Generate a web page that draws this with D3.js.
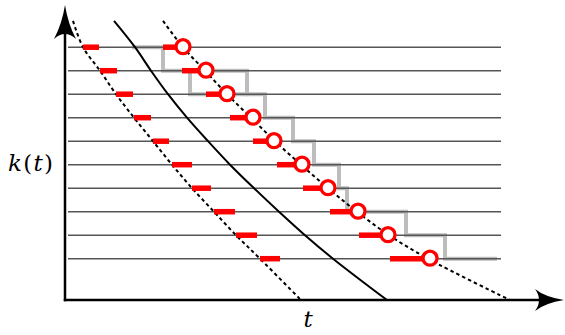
<!DOCTYPE html>
<html>
<head>
<meta charset="utf-8">
<script src="https://cdn.jsdelivr.net/npm/d3@7"></script>
<style>
  html, body { margin: 0; padding: 0; background: #fff; }
  svg { display: block; }
</style>
</head>
<body>
<svg id="chart" width="565" height="335"></svg>
<script>
// ---- data (t along x, k along y; rows ordered from k = 10 down to k = 1) ----
const rowK = [10, 9, 8, 7, 6, 5, 4, 3, 2, 1];
const rowExtentT = [0.6, 87.2];

// short red dashes on the left
const leftDashStart = [3.6, 7.0, 10.2, 13.8, 17.6, 21.4, 25.4, 29.8, 34.2, 39.0];
const leftDashEnd   = [6.8, 10.4, 13.6, 17.2, 20.8, 25.4, 29.2, 34.0, 38.4, 43.0];

// red bars ending in open circles
const barStart = [19.6, 23.4, 28.2, 33.0, 37.6, 42.4, 47.6, 53.0, 58.8, 65.0];
const circleT  = [23.6, 28.2, 32.4, 37.6, 41.8, 47.4, 52.6, 58.6, 64.6, 73.0];

// curves
const curveK      = [11.12, 10, 9, 8, 7, 6, 5, 4, 3, 2, 1, -0.76];
const leftDottedT = [1.6, 3.6, 7.0, 10.2, 13.8, 17.6, 21.4, 25.4, 29.8, 34.2, 39.0, 47.2];
const solidT      = [9.8, 14.0, 17.2, 20.6, 24.4, 28.6, 33.0, 37.8, 42.8, 48.0, 53.6, 64.4];
const rightDottedT= [19.6, 23.6, 28.0, 32.4, 37.2, 42.0, 47.2, 52.6, 58.4, 64.8, 72.6, 89.0];

// gray staircase
const stepT = [13.4, 19.6, 36.4, 40.0, 45.6, 49.8, 54.8, 56.4, 68.2, 76.0, 86.4];
const stepK = [10, 9, 8, 7, 6, 5, 4, 3, 2, 1, 1];
const branchT = [25.0, 36.4];
const branchK = [9, 8];

const xLabel = "t";
const yLabel = ["k", "(", "t", ")"];

// ---- scales ----
const x = d3.scaleLinear().domain([0, 100]).range([65, 565]);
const y = d3.scaleLinear().domain([0, 10]).range([282.2, 47.2]);
const x0 = x(0), yBottom = y(-0.757);

const svg = d3.select("#chart");

// gray staircase
const stepLine = d3.line().x(d => x(d[0])).y(d => y(d[1])).curve(d3.curveStepAfter);
svg.append("path")
  .attr("d", stepLine(stepT.map((t, i) => [t, stepK[i]])))
  .attr("fill", "none").attr("stroke", "#bdbdbd").attr("stroke-width", 4);
const branchLine = d3.line().x(d => x(d[0])).y(d => y(d[1])).curve(d3.curveStepBefore);
svg.append("path")
  .attr("d", branchLine(branchT.map((t, i) => [t, branchK[i]])))
  .attr("fill", "none").attr("stroke", "#bdbdbd").attr("stroke-width", 4);

// horizontal rows
svg.selectAll(".row").data(rowK).join("line")
  .attr("x1", x(rowExtentT[0])).attr("x2", x(rowExtentT[1]))
  .attr("y1", d => y(d)).attr("y2", d => y(d))
  .attr("stroke", "#555").attr("stroke-width", 1.4);

// curves
const curveLine = d3.line().x(d => x(d[0])).y(d => y(d[1])).curve(d3.curveCatmullRom);
function drawCurve(ts, dashed) {
  svg.append("path")
    .attr("d", curveLine(ts.map((t, i) => [t, curveK[i]])))
    .attr("fill", "none").attr("stroke", "#000")
    .attr("stroke-width", 2)
    .attr("stroke-dasharray", dashed ? "3.5,3" : null);
}
drawCurve(leftDottedT, true);
drawCurve(solidT, false);
drawCurve(rightDottedT, true);

// axes with arrows
svg.append("line").attr("x1", x0).attr("x2", x0).attr("y1", yBottom + 1.2).attr("y2", 30)
  .attr("stroke", "#000").attr("stroke-width", 2.5);
svg.append("line").attr("x1", x0 - 1.2).attr("x2", 545).attr("y1", yBottom).attr("y2", yBottom)
  .attr("stroke", "#000").attr("stroke-width", 2.5);
svg.append("path")
  .attr("d", `M${x0},5 Q${x0 - 3},24 ${x0 - 11},39 Q${x0},29 ${x0 + 11},39 Q${x0 + 3},24 ${x0},5 Z`)
  .attr("fill", "#000");
svg.append("path")
  .attr("d", `M564,${yBottom} Q545,${yBottom - 3} 535,${yBottom - 11} Q543,${yBottom} 535,${yBottom + 11} Q545,${yBottom + 3} 564,${yBottom} Z`)
  .attr("fill", "#000");

// red left dashes
svg.selectAll(".ldash").data(rowK).join("line")
  .attr("x1", (d, i) => x(leftDashStart[i])).attr("x2", (d, i) => x(leftDashEnd[i]))
  .attr("y1", d => y(d)).attr("y2", d => y(d))
  .attr("stroke", "#ff0000").attr("stroke-width", 5.5);

// red bars to circles
svg.selectAll(".rbar").data(rowK).join("line")
  .attr("x1", (d, i) => x(barStart[i])).attr("x2", (d, i) => x(circleT[i]))
  .attr("y1", d => y(d)).attr("y2", d => y(d))
  .attr("stroke", "#ff0000").attr("stroke-width", 5.5);

svg.selectAll(".circ").data(rowK).join("circle")
  .attr("cx", (d, i) => x(circleT[i])).attr("cy", d => y(d) - 0.5)
  .attr("r", 7)
  .attr("fill", "#fff").attr("stroke", "#ff0000").attr("stroke-width", 3.3);

// labels
const yl = svg.append("text").attr("x", 8).attr("y", 171)
  .attr("font-family", "DejaVu Serif, serif").attr("font-size", 23)
  .attr("textLength", 45).attr("lengthAdjust", "spacing");
yLabel.forEach((s, i) => {
  yl.append("tspan").attr("font-style", (s === "(" || s === ")") ? "normal" : "italic").text(s);
});
svg.append("text").attr("x", 308).attr("y", 327).attr("text-anchor", "middle")
  .attr("font-family", "DejaVu Serif, serif").attr("font-size", 23)
  .attr("font-style", "italic").text(xLabel);
</script>
</body>
</html>
